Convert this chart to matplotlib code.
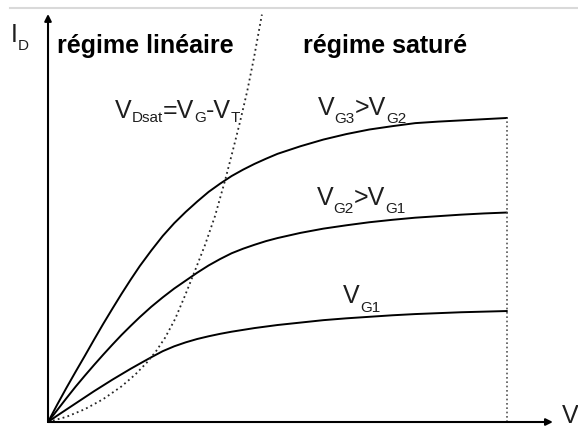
import matplotlib
matplotlib.use("Agg")
import matplotlib.pyplot as plt
from matplotlib.lines import Line2D

plt.rcParams["font.family"] = ["Liberation Sans", "DejaVu Sans"]

# Drain voltage samples (arbitrary units) and drain current for three gate voltages
vd = [0, 0.2, 0.4, 0.6, 0.8, 1.0, 1.2, 1.4, 1.6, 1.8, 2.0, 2.25, 2.5, 2.75, 3.0, 3.25,
      3.5, 3.75, 4.0, 4.25, 4.5, 4.75, 5.0, 5.5, 6.0, 6.5, 7.0, 7.5, 8.0, 8.5, 9.0, 9.5, 10.0]
id_vg1 = [0, 0.21, 0.41, 0.61, 0.81, 1.01, 1.20, 1.39, 1.57, 1.75, 1.92, 2.13, 2.33, 2.49,
          2.62, 2.73, 2.82, 2.90, 2.97, 3.03, 3.09, 3.14, 3.19, 3.27, 3.35, 3.41, 3.46,
          3.51, 3.55, 3.58, 3.61, 3.63, 3.65]
id_vg2 = [0, 0.39, 0.78, 1.16, 1.52, 1.87, 2.21, 2.54, 2.86, 3.16, 3.45, 3.79, 4.10, 4.39,
          4.65, 4.91, 5.15, 5.36, 5.55, 5.70, 5.83, 5.95, 6.05, 6.22, 6.36, 6.47, 6.57,
          6.65, 6.72, 6.77, 6.82, 6.86, 6.89]
id_vg3 = [0, 0.57, 1.12, 1.65, 2.17, 2.70, 3.22, 3.72, 4.21, 4.68, 5.13, 5.64, 6.12, 6.54,
          6.91, 7.25, 7.57, 7.84, 8.09, 8.30, 8.49, 8.66, 8.82, 9.07, 9.29, 9.47, 9.62,
          9.73, 9.83, 9.88, 9.92, 9.96, 10.0]

# Saturation boundary V_Dsat = V_G - V_T
vdsat = [0, 0.4, 0.8, 1.2, 1.6, 1.9, 2.15, 2.35, 2.55, 2.77, 2.98, 3.20, 3.42, 3.64,
         3.86, 4.03, 4.18, 4.34, 4.49, 4.66]
id_sat = [0, 0.17, 0.42, 0.75, 1.17, 1.56, 1.95, 2.32, 2.77, 3.39, 4.14, 4.97, 5.82, 6.78,
          7.96, 8.95, 9.85, 10.88, 12.0, 13.4]

W, H, DPI = 578, 430, 100
fig = plt.figure(figsize=(W / DPI, H / DPI), dpi=DPI)
fig.patch.set_facecolor("white")
ax = fig.add_axes([0, 0, 1, 1])
ax.set_xlim(-1.046, 11.547)
ax.set_ylim(-0.263, 13.88)
ax.axis("off")

# thin grey rule along the top
fig.add_artist(Line2D([10 / W, 1.0], [1 - 8 / H, 1 - 8 / H], transform=fig.transFigure,
                      color="#d9d9d9", lw=1.5))

# characteristic curves
for cur in (id_vg1, id_vg2, id_vg3):
    ax.plot(vd, cur, color="black", lw=1.4, solid_joinstyle="round", solid_capstyle="round")

# saturation locus and end-of-sweep marker
ax.plot(vdsat, id_sat, color="#262626", lw=1.3, ls=(0, (1, 1.8)), clip_on=False)
ax.plot([vd[-1], vd[-1]], [0, id_vg3[-1]], color="#555555", lw=1.2, ls=(0, (1, 1.6)))

# axes with arrow heads
arrow = dict(arrowstyle="-|>", color="black", lw=1.5, mutation_scale=10, shrinkA=0, shrinkB=0)
ax.annotate("", xy=(0, 13.42), xytext=(0, 0), arrowprops=arrow)
ax.annotate("", xy=(11.0, 0), xytext=(0, 0), arrowprops=arrow)

renderer = fig.canvas.get_renderer()


def rich_label(x, y, pieces, drop=8, size=18, sub_size=11, color="#1e1e1e"):
    """Draw text made of normal and subscript pieces, starting at data (x, y) baseline."""
    px, py = ax.transData.transform((x, y))
    cur = px
    for text, is_sub in pieces:
        yy = py - drop if is_sub else py
        fx, fy = fig.transFigure.inverted().transform((cur, yy))
        t = fig.text(fx, fy, text, fontsize=sub_size if is_sub else size, color=color,
                     ha="left", va="baseline")
        cur = t.get_window_extent(renderer).x1


rich_label(-0.81, 12.5, [("I", False), ("D", True)], drop=8)
rich_label(11.2, -0.03, [("V", False), ("D", True)], drop=8)
rich_label(1.46, 10.0, [("V", False), ("Dsat", True), ("=V", False), ("G", True),
                        ("-V", False), ("T", True)], drop=4)
rich_label(5.88, 10.1, [("V", False), ("G3", True), (">V", False), ("G2", True)], drop=8)
rich_label(5.86, 7.14, [("V", False), ("G2", True), (">V", False), ("G1", True)], drop=8)
rich_label(6.43, 3.91, [("V", False), ("G1", True)], drop=9)

ax.text(0.2, 12.14, "régime linéaire", fontsize=18, fontweight="bold", color="black",
        ha="left", va="baseline")
ax.text(5.56, 12.14, "régime saturé", fontsize=18, fontweight="bold", color="black",
        ha="left", va="baseline")

fig.savefig("out.png", dpi=DPI, facecolor="white")
